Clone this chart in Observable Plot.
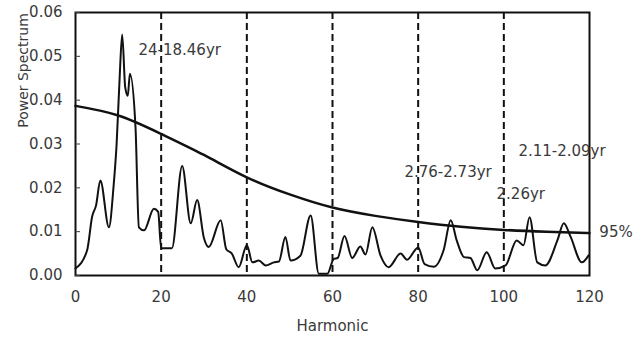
<!DOCTYPE html>
<html>
<head>
<meta charset="utf-8">
<script src="https://cdn.jsdelivr.net/npm/d3@7"></script>
<script src="https://cdn.jsdelivr.net/npm/@observablehq/plot@0.6"></script>
<style>
  html, body { margin: 0; padding: 0; background: #fff; }
  #chart svg { display: block; }
</style>
</head>
<body>
<div id="chart"></div>
<script>
// Power spectrum (harmonic, power)
const specHarmonic = [0, 2.7, 3.9, 4.8, 5.8, 7.8, 8.9, 9.6, 10.3, 10.9, 11.6, 12.2, 12.7, 14.0, 14.8, 16.0, 18.3, 19.3, 20.0, 22.5, 24.9, 26.9, 28.4, 30.0, 31.1, 33.9, 35.2, 36.5, 38.1, 40.0, 41.3, 42.8, 44.4, 46.3, 47.5, 49.0, 50.2, 52.5, 54.9, 56.8, 58.8, 60.3, 61.2, 62.8, 64.6, 66.5, 67.7, 69.3, 71.2, 73.1, 75.9, 77.4, 80.0, 81.5, 83.7, 86.0, 87.6, 89.0, 90.7, 92.2, 93.8, 96.0, 98.0, 100.4, 103.0, 104.6, 106.0, 107.8, 109.7, 112.5, 114.0, 115.6, 118.2, 119.8];
const specPower = [0.0016, 0.0057, 0.0135, 0.016, 0.0217, 0.011, 0.0205, 0.030, 0.045, 0.055, 0.043, 0.041, 0.046, 0.034, 0.011, 0.0103, 0.0152, 0.0145, 0.0062, 0.0062, 0.0250, 0.0119, 0.0172, 0.0085, 0.0065, 0.0126, 0.006, 0.005, 0.0019, 0.0069, 0.0030, 0.0034, 0.0023, 0.0030, 0.0032, 0.0088, 0.0034, 0.0045, 0.0137, 0.0004, 0.0004, 0.0038, 0.0040, 0.0090, 0.0040, 0.0066, 0.0048, 0.0110, 0.0046, 0.0019, 0.0050, 0.0036, 0.0064, 0.0026, 0.0020, 0.0060, 0.0126, 0.0080, 0.0042, 0.0040, 0.0012, 0.0053, 0.0016, 0.0023, 0.0080, 0.0069, 0.0133, 0.0030, 0.0023, 0.0080, 0.0119, 0.0088, 0.0030, 0.0046];

// 95% red-noise significance curve
const sigHarmonic = [0, 10, 20, 30, 40, 50, 60, 70, 80, 90, 100, 110, 120];
const sigPower = [0.0387, 0.0365, 0.0323, 0.0275, 0.0224, 0.0185, 0.0155, 0.0136, 0.0122, 0.0111, 0.0104, 0.0100, 0.0097];

// Dashed reference harmonics
const dashHarmonics = [20, 40, 60, 80, 100];

// Axis ticks
const xTicks = [0, 20, 40, 60, 80, 100, 120];
const yTicks = [0, 0.01, 0.02, 0.03, 0.04, 0.05, 0.06];

// Annotations (label, harmonic, power)
const noteLabels = ["24-18.46yr", "2.76-2.73yr", "2.26yr", "2.11-2.09yr", "95%"];
const noteHarmonic = [14.7, 76.8, 98.3, 103.4, 122.3];
const notePower = [0.0515, 0.0236, 0.0185, 0.0284, 0.0099];

const spectrum = specHarmonic.map((h, i) => ({h, p: specPower[i]}));
const sig = sigHarmonic.map((h, i) => ({h, p: sigPower[i]}));
const notes = noteLabels.map((t, i) => ({t, h: noteHarmonic[i], p: notePower[i]}));

const chart = Plot.plot({
  width: 642,
  height: 341,
  marginLeft: 75,
  marginRight: 53,
  marginTop: 12,
  marginBottom: 66,
  style: {fontFamily: "DejaVu Sans, sans-serif", fontSize: "15px", color: "#3a3a3a", background: "#fff"},
  x: {domain: [0, 120]},
  y: {domain: [0, 0.06]},
  marks: [
    Plot.ruleX(dashHarmonics, {x: d => d, stroke: "#111", strokeWidth: 2, strokeDasharray: "7,4"}),
    Plot.line(sig, {x: "h", y: "p", curve: "natural", stroke: "#111", strokeWidth: 2.5}),
    Plot.line(spectrum, {x: "h", y: "p", curve: "monotone-x", stroke: "#111", strokeWidth: 2}),
    Plot.frame({stroke: "#111", strokeWidth: 2}),
    Plot.axisX({ticks: xTicks, tickSize: 0, tickPadding: 16, tickFormat: d3.format("d"), label: "Harmonic", labelAnchor: "center", labelOffset: 55, labelArrow: "none", fontSize: 15}),
    Plot.axisY({ticks: yTicks, tickSize: -5, tickPadding: 18, tickFormat: d3.format(".2f"), label: null, fontSize: 15}),
    Plot.text(["Power Spectrum"], {frameAnchor: "top-left", dx: -57, dy: 58, rotate: -90, textAnchor: "middle", fontSize: 14, fill: "#3a3a3a"}),
    Plot.text(notes, {x: "h", y: "p", text: "t", textAnchor: "start", fontSize: 15, fill: "#3a3a3a"})
  ]
});
document.getElementById("chart").appendChild(chart);
</script>
</body>
</html>
